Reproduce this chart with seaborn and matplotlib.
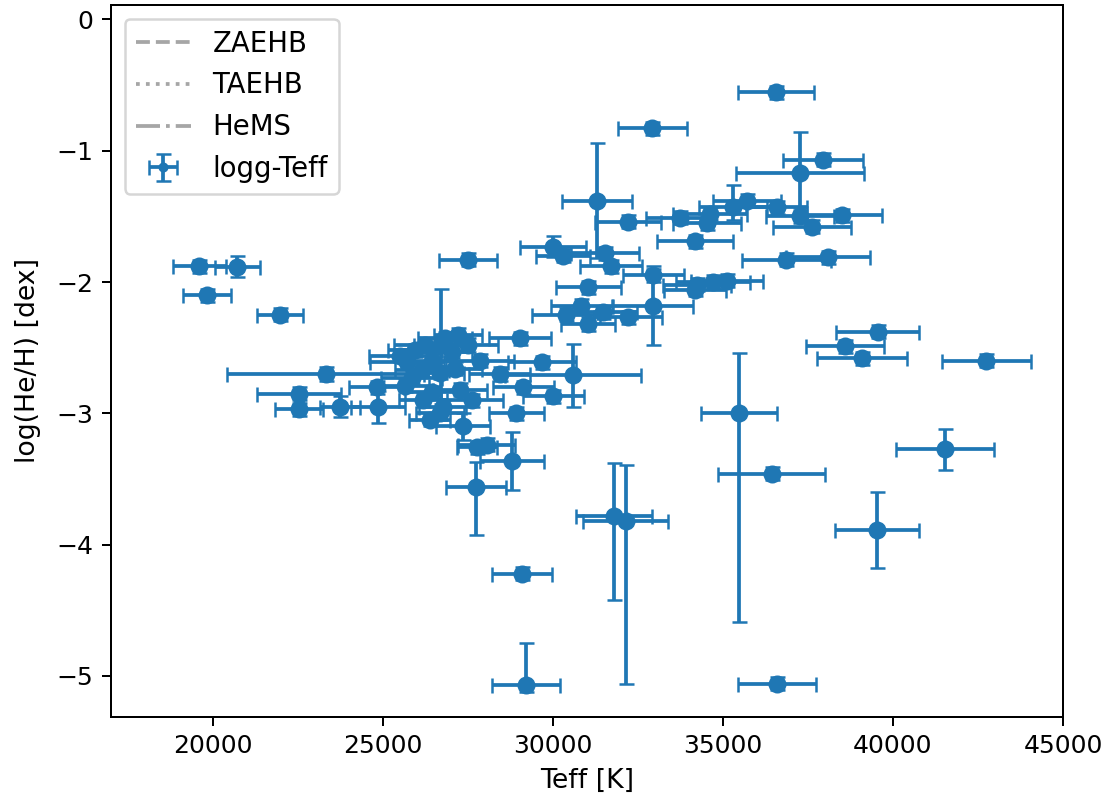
import numpy as np
import matplotlib
matplotlib.use("Agg")
import matplotlib.pyplot as plt
import seaborn as sns

# ---- data ----
teff = [19600, 20720, 19830, 21970, 23320, 22530, 22530, 23740, 24820, 24850,
        25500, 25710, 25940, 26240, 26440, 26820, 27210, 27500, 27030, 25850,
        26150, 26680, 27120, 25650, 26180, 26440, 26760, 27270, 27620, 26680,
        27350, 27770, 26380, 27850, 26710,
        27510, 30010, 30290, 31530, 31710, 32210, 32950, 32950, 34180, 31040,
        30840, 30400, 31480, 32210, 31040, 29030, 29670, 30600, 28440, 29130,
        30010, 28930, 28050, 34230, 34710, 35110, 34180, 31290, 28810, 27740,
        29100, 29200, 31800, 32140, 32930, 36560,
        37950, 37280, 38490, 37610, 37260, 35300, 35700, 36580, 34620, 34520,
        36870, 38100, 39550, 38590, 39080, 42750, 35480, 36430, 41530, 39540,
        36580, 33740]
loghe = [-1.880, -1.885, -2.10, -2.25, -2.70, -2.85, -2.97, -2.95, -2.80, -2.95,
         -2.56, -2.61, -2.52, -2.48, -2.60, -2.43, -2.40, -2.48, -2.53, -2.73,
         -2.67, -2.69, -2.66, -2.79, -2.90, -2.84, -2.95, -2.82, -2.90, -3.00,
         -3.10, -3.26, -3.05, -2.60, -2.48,
         -1.83, -1.73, -1.80, -1.78, -1.88, -1.54, -1.95, -2.18, -1.69, -2.04,
         -2.18, -2.25, -2.23, -2.27, -2.32, -2.43, -2.61, -2.71, -2.70, -2.80,
         -2.87, -3.00, -3.24, -2.02, -2.00, -1.99, -2.06, -1.38, -3.36, -3.56,
         -4.22, -5.07, -3.78, -3.82, -0.83, -0.556,
         -1.07, -1.17, -1.49, -1.58, -1.50, -1.43, -1.38, -1.43, -1.48, -1.55,
         -1.83, -1.81, -2.38, -2.49, -2.58, -2.60, -3.00, -3.46, -3.275, -3.89,
         -5.06, -1.51]
teff_err = [780, 660, 700, 680, 2900, 1240, 700, 600, 800, 800,
            900, 1100, 800, 900, 700, 800, 700, 900, 600, 900,
            800, 700, 800, 700, 700, 800, 700, 800, 900, 700,
            800, 600, 600, 1000, 800,
            845, 970, 800, 1000, 900, 980, 900, 1180, 1120, 955,
            900, 1000, 1000, 1000, 800, 910, 1000, 2000, 900, 900,
            900, 800, 830, 1000, 1100, 1060, 900, 1030, 940, 880,
            880, 1000, 1120, 1260, 1015, 1120,
            1175, 1880, 1180, 1150, 1000, 1000, 1000, 900, 1100, 1000,
            1320, 1230, 1210, 1150, 1320, 1300, 1110, 1580, 1440, 1240,
            1150, 1000]
loghe_err_lo = [0.05, 0.08, 0.05, 0.05, 0.05, 0.05, 0.05, 0.08, 0.05, 0.12,
                0.05, 0.05, 0.05, 0.05, 0.05, 0.05, 0.05, 0.05, 0.05, 0.05,
                0.05, 0.05, 0.05, 0.05, 0.05, 0.05, 0.05, 0.05, 0.05, 0.05,
                0.10, 0.05, 0.05, 0.05, 0.45,
                0.05, 0.08, 0.05, 0.05, 0.05, 0.05, 0.05, 0.30, 0.05, 0.05,
                0.05, 0.05, 0.05, 0.05, 0.05, 0.05, 0.05, 0.24, 0.05, 0.05,
                0.05, 0.05, 0.05, 0.05, 0.05, 0.05, 0.05, 0.44, 0.22, 0.37,
                0.05, 0.05, 0.64, 1.24, 0.05, 0.05,
                0.05, 0.26, 0.05, 0.05, 0.05, 0.10, 0.05, 0.05, 0.05, 0.05,
                0.05, 0.05, 0.05, 0.05, 0.05, 0.05, 1.59, 0.05, 0.156, 0.29,
                0.05, 0.05]
loghe_err_hi = [0.05, 0.08, 0.05, 0.05, 0.05, 0.05, 0.05, 0.08, 0.05, 0.12,
                0.05, 0.05, 0.05, 0.05, 0.05, 0.05, 0.05, 0.05, 0.05, 0.05,
                0.05, 0.05, 0.05, 0.05, 0.05, 0.05, 0.05, 0.05, 0.05, 0.05,
                0.10, 0.05, 0.05, 0.05, 0.43,
                0.05, 0.08, 0.05, 0.05, 0.05, 0.05, 0.05, 0.30, 0.05, 0.05,
                0.05, 0.05, 0.05, 0.05, 0.05, 0.05, 0.05, 0.24, 0.05, 0.05,
                0.05, 0.05, 0.05, 0.05, 0.05, 0.05, 0.05, 0.44, 0.22, 0.19,
                0.05, 0.32, 0.40, 0.43, 0.05, 0.05,
                0.05, 0.31, 0.05, 0.05, 0.05, 0.17, 0.05, 0.05, 0.05, 0.05,
                0.05, 0.05, 0.05, 0.05, 0.05, 0.05, 0.46, 0.05, 0.156, 0.29,
                0.05, 0.05]
track_labels = ["ZAEHB", "TAEHB", "HeMS"]
track_styles = ["--", ":", "-."]

# ---- plot ----
sns.set_style("white")
plt.rcParams.update({
    "axes.edgecolor": "black", "axes.linewidth": 0.8,
    "xtick.bottom": True, "ytick.left": True,
    "xtick.color": "black", "ytick.color": "black",
    "text.color": "black", "axes.labelcolor": "black",
    "font.size": 10, "axes.labelsize": 10.7,
    "xtick.labelsize": 10, "ytick.labelsize": 10,
    "legend.fontsize": 11,
})
plt.rcParams["font.family"] = ["DejaVu Sans"]

fig = plt.figure(figsize=(1112 / 180, 802 / 180), dpi=180)
ax = fig.add_axes([0.0996, 0.1064, 0.8563, 0.8874])

for lab, ls in zip(track_labels, track_styles):
    ax.plot([], [], ls, color="gray", alpha=0.7, label=lab)

blue = "#1f77b4"
ax.errorbar(teff, loghe, xerr=teff_err,
            yerr=[loghe_err_lo, loghe_err_hi],
            fmt="o", color=blue, ms=3, capsize=3, elinewidth=1.5,
            label="logg-Teff")
sns.scatterplot(x=teff, y=loghe, ax=ax, color=blue, s=52, linewidth=0,
                legend=False, zorder=3)

ax.set_xlim(17000, 45000)
ax.set_ylim(-5.31, 0.11)
ax.set_xticks([20000, 25000, 30000, 35000, 40000, 45000])
ax.set_yticks([0, -1, -2, -3, -4, -5])
ax.set_yticklabels(["0", "\u22121", "\u22122", "\u22123", "\u22124", "\u22125"])
ax.tick_params(direction="out", length=3.5, width=0.8)
ax.set_xlabel("Teff [K]")
ax.set_ylabel("log(He/H) [dex]", labelpad=6)
ax.legend(loc="upper left", frameon=True, fancybox=True, framealpha=0.8,
          edgecolor="0.8", handlelength=2.0)

fig.savefig("out.png", dpi=180)
